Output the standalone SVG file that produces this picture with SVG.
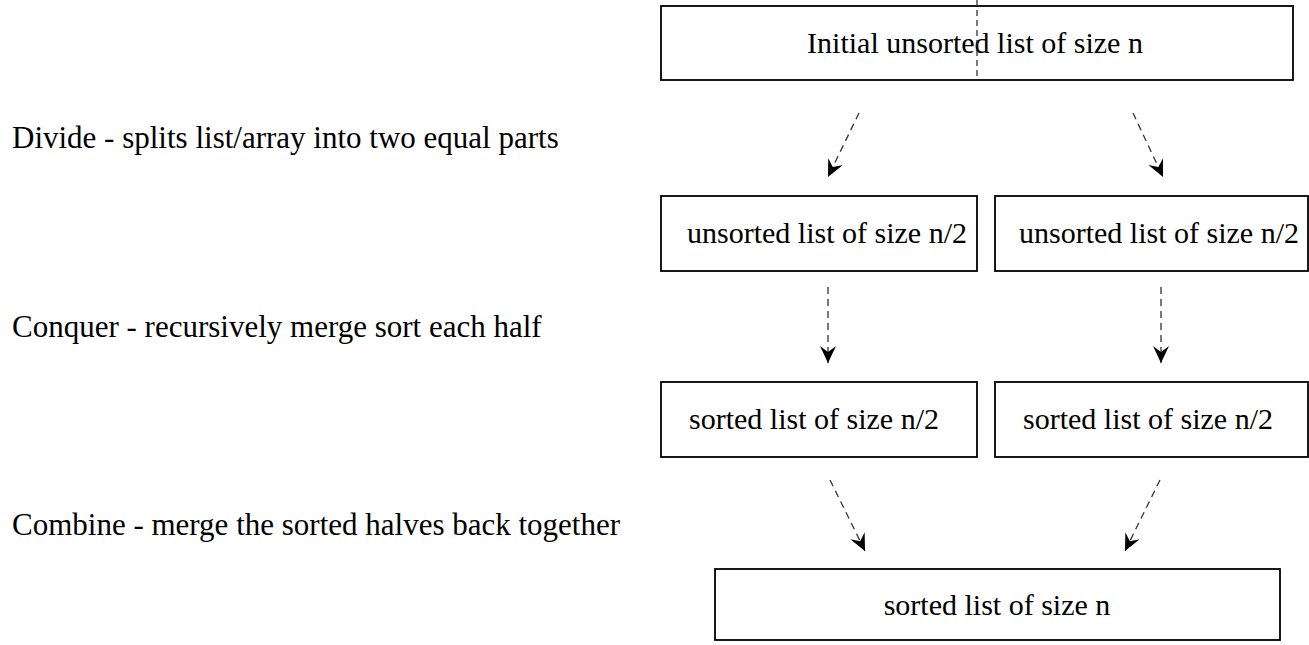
<svg xmlns="http://www.w3.org/2000/svg" width="1309" height="645" viewBox="0 0 1309 645">
<style>
  .box { fill: #fff; stroke: #000; stroke-width: 1.8; }
  .t { font-family: "Liberation Serif", "Times New Roman", serif; font-size: 30px; fill: #000; }
  .lbl { font-family: "Liberation Serif", "Times New Roman", serif; font-size: 31px; fill: #000; }
  .c { fill: none; stroke: #333; stroke-width: 1.3; stroke-dasharray: 7 5; }
</style>
<defs>
  <marker id="ah" markerUnits="userSpaceOnUse" markerWidth="20" markerHeight="18" refX="17" refY="8" orient="auto">
    <path d="M0,0 L17,8 L0,16 L6,8 z" fill="#000"/>
  </marker>
</defs>
<rect width="1309" height="645" fill="#fff"/>
<g id="labels">
  <text class="lbl" x="12" y="148">Divide - splits list/array into two equal parts</text>
  <text class="lbl" x="12" y="337">Conquer - recursively merge sort each half</text>
  <text class="lbl" x="12" y="535">Combine - merge the sorted halves back together</text>
</g>
<g id="n-initial">
  <rect class="box" x="661" y="6" width="632" height="74"/>
  <text class="t" x="975" y="53" text-anchor="middle">Initial unsorted list of size n</text>
  <line x1="977" y1="0" x2="977" y2="80" stroke="#222" stroke-width="1.2" stroke-dasharray="6 4"/>
</g>
<g id="n-unsorted-left">
  <rect class="box" x="661" y="196" width="316" height="75"/>
  <text class="t" x="827" y="243" text-anchor="middle">unsorted list of size n/2</text>
</g>
<g id="n-unsorted-right">
  <rect class="box" x="995" y="196" width="313" height="75"/>
  <text class="t" x="1159" y="243" text-anchor="middle">unsorted list of size n/2</text>
</g>
<g id="n-sorted-left">
  <rect class="box" x="661" y="382" width="316" height="75"/>
  <text class="t" x="814" y="429" text-anchor="middle">sorted list of size n/2</text>
</g>
<g id="n-sorted-right">
  <rect class="box" x="995" y="382" width="313" height="75"/>
  <text class="t" x="1148" y="429" text-anchor="middle">sorted list of size n/2</text>
</g>
<g id="n-final">
  <rect class="box" x="715" y="569" width="565" height="71"/>
  <text class="t" x="997" y="615" text-anchor="middle">sorted list of size n</text>
</g>
<g id="connectors">
  <line class="c" x1="859" y1="113" x2="828" y2="177" marker-end="url(#ah)"/>
  <line class="c" x1="1133" y1="113" x2="1163" y2="177" marker-end="url(#ah)"/>
  <line class="c" x1="828" y1="287" x2="828" y2="363" marker-end="url(#ah)"/>
  <line class="c" x1="1161" y1="287" x2="1161" y2="363" marker-end="url(#ah)"/>
  <line class="c" x1="830" y1="480" x2="865" y2="551" marker-end="url(#ah)"/>
  <line class="c" x1="1160" y1="480" x2="1125" y2="551" marker-end="url(#ah)"/>
</g>
</svg>
